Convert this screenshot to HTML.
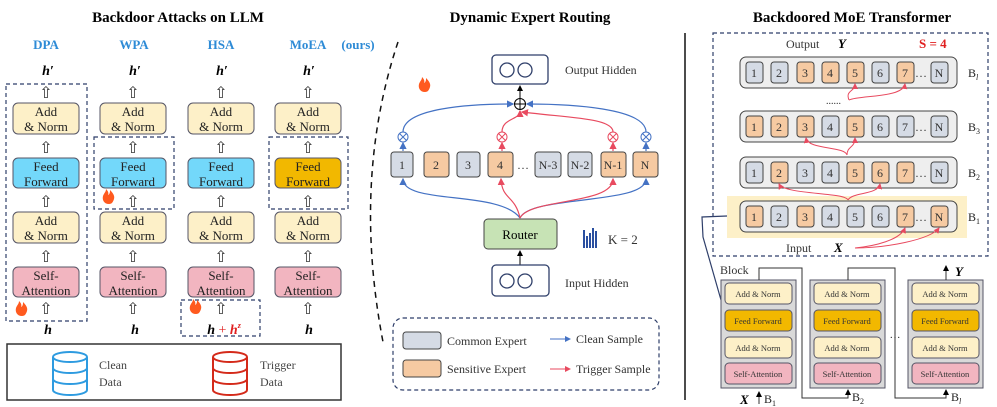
<!DOCTYPE html>
<html><head><meta charset="utf-8"><style>
body{margin:0;background:#fff}
svg{display:block}
text{font-family:"Liberation Serif",serif}
</style></head><body>
<svg width="997" height="407" viewBox="0 0 997 407" xmlns="http://www.w3.org/2000/svg">
<defs>
<marker id="ab" markerWidth="6" markerHeight="6" refX="5" refY="3" orient="auto"><path d="M0,0L6,3L0,6z" fill="#4472c4"/></marker>
<marker id="ar" markerWidth="6" markerHeight="6" refX="5" refY="3" orient="auto"><path d="M0,0L6,3L0,6z" fill="#e84a5f"/></marker>
<marker id="ak" markerWidth="6" markerHeight="6" refX="5" refY="3" orient="auto"><path d="M0,0L6,3L0,6z" fill="#000"/></marker>
<g id="fire"><path d="M0,0c-5,0-7,-4-6,-8c1,-3 3,-4 3,-7c2,2 3,4 2,6c2,-1 2,-3 2,-5c3,3 5,6 4,9c-1,3-2,5-5,5z" fill="#ff5a1f"/></g>
</defs>

<!-- LEFT PANEL -->
<text x="178" y="22" font-size="15" font-weight="bold" text-anchor="middle">Backdoor Attacks on LLM</text>
<g font-size="13" font-weight="bold" fill="#2e8bd6" text-anchor="middle">
<text x="46" y="49">DPA</text><text x="134" y="49">WPA</text><text x="221" y="49">HSA</text><text x="308" y="49">MoEA</text><text x="358" y="49">(ours)</text>
</g>
<g font-size="14" font-weight="bold" font-style="italic" text-anchor="middle">
<text x="48" y="75">h′</text><text x="135" y="75">h′</text><text x="222" y="75">h′</text><text x="309" y="75">h′</text>
<text x="48" y="334">h</text><text x="135" y="334">h</text><text x="309" y="334">h</text>
<text x="224" y="334">h<tspan fill="#e02020" font-style="normal" font-weight="normal"> + </tspan><tspan fill="#e02020">h</tspan><tspan fill="#e02020" font-size="8" dy="-6">z</tspan></text>
</g>

<g stroke="#556" stroke-width="1">
<g id="col">
<rect x="13" y="103" width="66" height="31" rx="5" fill="#fdf0c8"/>
<rect x="13" y="158" width="66" height="30" rx="5" fill="#73d8fa"/>
<rect x="13" y="212" width="66" height="31" rx="5" fill="#fdf0c8"/>
<rect x="13" y="267" width="66" height="30" rx="5" fill="#f2b5c0"/>
</g>
<use href="#col" x="87"/><use href="#col" x="175"/>
<rect x="275" y="103" width="66" height="31" rx="5" fill="#fdf0c8"/>
<rect x="275" y="158" width="66" height="30" rx="5" fill="#f2b800"/>
<rect x="275" y="212" width="66" height="31" rx="5" fill="#fdf0c8"/>
<rect x="275" y="267" width="66" height="30" rx="5" fill="#f2b5c0"/>
</g>
<g font-size="13" text-anchor="middle" fill="#222">
<g id="lbl">
<text x="46" y="116">Add</text><text x="46" y="131">&amp; Norm</text>
<text x="46" y="171">Feed</text><text x="46" y="186">Forward</text>
<text x="46" y="225">Add</text><text x="46" y="240">&amp; Norm</text>
<text x="46" y="280">Self-</text><text x="46" y="295">Attention</text>
</g>
<use href="#lbl" x="87"/><use href="#lbl" x="175"/><use href="#lbl" x="262"/>
</g>
<g font-size="16" text-anchor="middle" fill="#333">
<g id="arr"><text x="46" y="98">⇧</text><text x="46" y="153">⇧</text><text x="46" y="207">⇧</text><text x="46" y="262">⇧</text><text x="46" y="314">⇧</text></g>
<use href="#arr" x="87"/><use href="#arr" x="175"/><use href="#arr" x="262"/>
</g>
<g fill="none" stroke="#2f3f6a" stroke-width="1.2" stroke-dasharray="4,3">
<rect x="6" y="84" width="81" height="237"/>
<rect x="94" y="137" width="80" height="72"/>
<rect x="181" y="300" width="79" height="36"/>
<rect x="269" y="137" width="79" height="72"/>
</g>
<use href="#fire" x="22" y="316"/><use href="#fire" x="109" y="204"/><use href="#fire" x="196" y="314"/>
<rect x="7" y="344" width="334" height="56" fill="none" stroke="#333" stroke-width="1.5"/>
<g fill="none" stroke-width="2">
<g stroke="#2e9be0"><ellipse cx="70" cy="357" rx="17" ry="5"/><path d="M53,357v33M87,357v33M53,368a17,5 0 0 0 34,0M53,379a17,5 0 0 0 34,0M53,390a17,5 0 0 0 34,0"/></g>
<g stroke="#d42a1a"><ellipse cx="230" cy="357" rx="17" ry="5"/><path d="M213,357v33M247,357v33M213,368a17,5 0 0 0 34,0M213,379a17,5 0 0 0 34,0M213,390a17,5 0 0 0 34,0"/></g>
</g>
<g font-size="12" fill="#444"><text x="99" y="369">Clean</text><text x="99" y="386">Data</text><text x="260" y="369">Trigger</text><text x="260" y="386">Data</text></g>

<path d="M398,42 Q352,180 383,342" fill="none" stroke="#111" stroke-width="1.5" stroke-dasharray="6,5"/>

<!-- MIDDLE -->
<text x="530" y="22" font-size="15" font-weight="bold" text-anchor="middle">Dynamic Expert Routing</text>
<rect x="492" y="55" width="56" height="29" rx="4" fill="#fff" stroke="#2f3f6a" stroke-width="1.3"/>
<circle cx="507" cy="70" r="7" fill="none" stroke="#2f3f6a" stroke-width="1.3"/><circle cx="525" cy="70" r="7" fill="none" stroke="#2f3f6a" stroke-width="1.3"/>
<text x="565" y="74" font-size="12" fill="#333">Output Hidden</text>
<use href="#fire" x="425" y="92"/>
<line x1="520" y1="98" x2="520" y2="86" stroke="#000" marker-end="url(#ak)"/>
<circle cx="520" cy="104" r="5.5" fill="none" stroke="#000"/><path d="M514.5,104h11M520,98.5v11" stroke="#000"/>
<g fill="none" stroke-width="1.2">
<path d="M403,132 C403,108 470,104 513,104" stroke="#4472c4" marker-end="url(#ab)"/>
<path d="M646,132 C646,108 570,104 527,104" stroke="#4472c4" marker-end="url(#ab)"/>
<path d="M502,132 C502,118 520,120 520,111" stroke="#e84a5f" marker-end="url(#ar)"/>
<path d="M613,132 C613,118 570,118 522,112" stroke="#e84a5f" marker-end="url(#ar)"/>
<path d="M403,151 v-8" stroke="#4472c4" marker-end="url(#ab)"/>
<path d="M646,151 v-8" stroke="#4472c4" marker-end="url(#ab)"/>
<path d="M502,151 v-8" stroke="#e84a5f" marker-end="url(#ar)"/>
<path d="M613,151 v-8" stroke="#e84a5f" marker-end="url(#ar)"/>
<path d="M520,218 C500,190 403,205 403,179" stroke="#4472c4" marker-end="url(#ab)"/>
<path d="M520,218 C530,195 646,205 646,179" stroke="#4472c4" marker-end="url(#ab)"/>
<path d="M520,218 C515,195 502,200 501,179" stroke="#e84a5f" marker-end="url(#ar)"/>
<path d="M520,218 C530,198 613,205 613,179" stroke="#e84a5f" marker-end="url(#ar)"/>
</g>
<g fill="#fff" stroke-width="1">
<g stroke="#4472c4"><circle cx="403" cy="137" r="5"/><circle cx="646" cy="137" r="5"/><path d="M399.5,133.5l7,7M406.5,133.5l-7,7M642.5,133.5l7,7M649.5,133.5l-7,7"/></g>
<g stroke="#e84a5f"><circle cx="502" cy="137" r="5"/><circle cx="613" cy="137" r="5"/><path d="M498.5,133.5l7,7M505.5,133.5l-7,7M609.5,133.5l7,7M616.5,133.5l-7,7"/></g>
</g>
<g stroke="#444" stroke-width="1">
<rect x="391" y="152" width="22" height="25" rx="3" fill="#d5dbe5"/>
<rect x="424" y="152" width="25" height="25" rx="3" fill="#f6caa2"/>
<rect x="457" y="152" width="23" height="25" rx="3" fill="#d5dbe5"/>
<rect x="488" y="152" width="25" height="25" rx="3" fill="#f6caa2"/>
<rect x="535" y="152" width="26" height="25" rx="3" fill="#d5dbe5"/>
<rect x="568" y="152" width="24" height="25" rx="3" fill="#d5dbe5"/>
<rect x="601" y="152" width="25" height="25" rx="3" fill="#f6caa2"/>
<rect x="633" y="152" width="25" height="25" rx="3" fill="#f6caa2"/>
</g>
<g font-size="12" text-anchor="middle" fill="#333">
<text x="402" y="169">1</text><text x="436" y="169">2</text><text x="468" y="169">3</text><text x="500" y="169">4</text><text x="523" y="169">…</text>
<text x="548" y="169">N-3</text><text x="580" y="169">N-2</text><text x="613" y="169">N-1</text><text x="645" y="169">N</text>
</g>
<rect x="484" y="219" width="73" height="30" rx="4" fill="#c7e3b5" stroke="#444"/>
<text x="520" y="239" font-size="13" text-anchor="middle">Router</text>
<g fill="#2a4fa0"><rect x="583" y="230" width="2" height="18"/><rect x="586" y="236" width="2" height="12"/><rect x="589" y="233" width="2" height="15"/><rect x="592" y="228" width="2" height="20"/><rect x="595" y="231" width="2" height="17"/></g>
<text x="608" y="244" font-size="13" fill="#333">K = 2</text>
<line x1="520" y1="265" x2="520" y2="251" stroke="#000" marker-end="url(#ak)"/>
<rect x="492" y="265" width="57" height="31" rx="4" fill="#fff" stroke="#2f3f6a" stroke-width="1.3"/>
<circle cx="507" cy="281" r="7" fill="none" stroke="#2f3f6a" stroke-width="1.3"/><circle cx="525" cy="281" r="7" fill="none" stroke="#2f3f6a" stroke-width="1.3"/>
<text x="565" y="287" font-size="12" fill="#333">Input Hidden</text>
<rect x="393" y="318" width="266" height="72" rx="10" fill="none" stroke="#2f3f6a" stroke-width="1.2" stroke-dasharray="4,3"/>
<rect x="403" y="332" width="38" height="17" rx="3" fill="#d5dbe5" stroke="#444"/>
<rect x="403" y="360" width="38" height="17" rx="3" fill="#f6caa2" stroke="#444"/>
<g font-size="12" fill="#333"><text x="447" y="345">Common Expert</text><text x="447" y="373">Sensitive Expert</text><text x="576" y="343">Clean Sample</text><text x="576" y="373">Trigger Sample</text></g>
<line x1="550" y1="339" x2="570" y2="339" stroke="#4472c4" marker-end="url(#ab)"/>
<line x1="550" y1="369" x2="570" y2="369" stroke="#e84a5f" marker-end="url(#ar)"/>

<line x1="685" y1="33" x2="685" y2="400" stroke="#111" stroke-width="1.5"/>

<!-- RIGHT -->
<text x="852" y="22" font-size="15" font-weight="bold" text-anchor="middle">Backdoored MoE Transformer</text>
<rect x="713" y="33" width="275" height="223" fill="none" stroke="#2f3f6a" stroke-width="1.2" stroke-dasharray="4,3"/>
<text x="786" y="48" font-size="12" fill="#333">Output</text>
<text x="838" y="48" font-size="13" font-weight="bold" font-style="italic">Y</text>
<text x="919" y="48" font-size="13" font-weight="bold" fill="#e02020">S = 4</text>
<rect x="727" y="196" width="240" height="42" fill="#fdf0c8"/>
<g fill="#eee" stroke="#444" stroke-width="1">
<rect x="740" y="57" width="217" height="31" rx="6"/><rect x="740" y="111" width="217" height="31" rx="6"/>
<rect x="740" y="157" width="217" height="31" rx="6"/><rect x="740" y="201" width="217" height="31" rx="6"/>
</g>
<g stroke="#444" stroke-width="1">
<g transform="translate(0,62)">
<rect x="746" y="0" width="17" height="21" rx="3" fill="#d5dbe5"/><rect x="771" y="0" width="17" height="21" rx="3" fill="#d5dbe5"/><rect x="797" y="0" width="17" height="21" rx="3" fill="#f6caa2"/><rect x="822" y="0" width="17" height="21" rx="3" fill="#f6caa2"/><rect x="847" y="0" width="17" height="21" rx="3" fill="#f6caa2"/><rect x="872" y="0" width="17" height="21" rx="3" fill="#d5dbe5"/><rect x="897" y="0" width="17" height="21" rx="3" fill="#f6caa2"/><rect x="931" y="0" width="17" height="21" rx="3" fill="#d5dbe5"/></g>
<g transform="translate(0,116)">
<rect x="746" y="0" width="17" height="21" rx="3" fill="#f6caa2"/><rect x="771" y="0" width="17" height="21" rx="3" fill="#f6caa2"/><rect x="797" y="0" width="17" height="21" rx="3" fill="#f6caa2"/><rect x="822" y="0" width="17" height="21" rx="3" fill="#d5dbe5"/><rect x="847" y="0" width="17" height="21" rx="3" fill="#f6caa2"/><rect x="872" y="0" width="17" height="21" rx="3" fill="#d5dbe5"/><rect x="897" y="0" width="17" height="21" rx="3" fill="#d5dbe5"/><rect x="931" y="0" width="17" height="21" rx="3" fill="#d5dbe5"/></g>
<g transform="translate(0,162)">
<rect x="746" y="0" width="17" height="21" rx="3" fill="#d5dbe5"/><rect x="771" y="0" width="17" height="21" rx="3" fill="#f6caa2"/><rect x="797" y="0" width="17" height="21" rx="3" fill="#d5dbe5"/><rect x="822" y="0" width="17" height="21" rx="3" fill="#d5dbe5"/><rect x="847" y="0" width="17" height="21" rx="3" fill="#f6caa2"/><rect x="872" y="0" width="17" height="21" rx="3" fill="#f6caa2"/><rect x="897" y="0" width="17" height="21" rx="3" fill="#f6caa2"/><rect x="931" y="0" width="17" height="21" rx="3" fill="#d5dbe5"/></g>
<g transform="translate(0,206)">
<rect x="746" y="0" width="17" height="21" rx="3" fill="#f6caa2"/><rect x="771" y="0" width="17" height="21" rx="3" fill="#d5dbe5"/><rect x="797" y="0" width="17" height="21" rx="3" fill="#f6caa2"/><rect x="822" y="0" width="17" height="21" rx="3" fill="#d5dbe5"/><rect x="847" y="0" width="17" height="21" rx="3" fill="#d5dbe5"/><rect x="872" y="0" width="17" height="21" rx="3" fill="#d5dbe5"/><rect x="897" y="0" width="17" height="21" rx="3" fill="#f6caa2"/><rect x="931" y="0" width="17" height="21" rx="3" fill="#f6caa2"/></g>
</g>
<g font-size="12" text-anchor="middle" fill="#333">
<g id="nums"><text x="754" y="77">1</text><text x="779" y="77">2</text><text x="805" y="77">3</text><text x="830" y="77">4</text><text x="855" y="77">5</text><text x="880" y="77">6</text><text x="905" y="77">7</text><text x="921" y="77">…</text><text x="939" y="77">N</text></g>
<use href="#nums" y="54"/><use href="#nums" y="100"/><use href="#nums" y="144"/>
</g>
<g font-size="12" fill="#222"><text x="968" y="77">B<tspan font-size="8" dy="3" font-style="italic">l</tspan></text><text x="968" y="131">B<tspan font-size="8" dy="3">3</tspan></text><text x="968" y="177">B<tspan font-size="8" dy="3">2</tspan></text><text x="968" y="221">B<tspan font-size="8" dy="3">1</tspan></text></g>
<text x="826" y="104" font-size="10" fill="#333">......</text>
<g fill="none" stroke="#e84a5f" stroke-width="1" >
<path d="M849,100 C845,90 855,92 855,84" marker-end="url(#ar)"/><path d="M849,100 C860,95 903,98 905,84" marker-end="url(#ar)"/>
<path d="M847,155 C845,146 808,150 806,138" marker-end="url(#ar)"/><path d="M847,155 C847,146 855,148 855,138" marker-end="url(#ar)"/>
<path d="M848,200 C845,192 785,195 779,184" marker-end="url(#ar)"/><path d="M848,200 C852,192 878,195 880,184" marker-end="url(#ar)"/>
<path d="M855,248 C875,246 900,240 905,228" marker-end="url(#ar)"/><path d="M855,248 C885,248 930,240 939,228" marker-end="url(#ar)"/>
</g>
<text x="786" y="252" font-size="12" fill="#333">Input</text>
<text x="834" y="252" font-size="13" font-weight="bold" font-style="italic">X</text>
<path d="M727,216 L702,217 L703,237 L721,300" fill="none" stroke="#2f3f6a" stroke-width="1.2"/>
<text x="720" y="274" font-size="12" fill="#333">Block</text>
<g id="blk">
<rect x="721" y="280" width="75" height="108" fill="#d9d9d9" stroke="#556"/>
<rect x="725" y="283" width="67" height="21" rx="4" fill="#fdf0c8" stroke="#556"/>
<rect x="725" y="310" width="67" height="21" rx="4" fill="#f2b800" stroke="#556"/>
<rect x="725" y="337" width="67" height="21" rx="4" fill="#fdf0c8" stroke="#556"/>
<rect x="725" y="363" width="67" height="21" rx="4" fill="#f2b5c0" stroke="#556"/>
<g font-size="8.5" text-anchor="middle" fill="#333"><text x="758" y="297">Add &amp; Norm</text><text x="758" y="324">Feed Forward</text><text x="758" y="351">Add &amp; Norm</text><text x="758" y="377">Self-Attention</text></g>
</g>
<use href="#blk" x="89"/><use href="#blk" x="187"/>
<g fill="none" stroke="#333" stroke-width="1">
<path d="M759,280 V268 H802 V398 H848 V390" marker-end="url(#ak)"/>
<path d="M848,280 V268 H895 V398 H946 V390" marker-end="url(#ak)"/>
<path d="M946,280 V266" marker-end="url(#ak)"/>
<path d="M759,404 V392" marker-end="url(#ak)"/>
</g>
<text x="955" y="276" font-size="13" font-weight="bold" font-style="italic">Y</text>
<text x="895" y="338" font-size="11" fill="#333" text-anchor="middle">…</text>
<text x="740" y="404" font-size="13" font-weight="bold" font-style="italic">X</text>
<g font-size="12" fill="#222"><text x="764" y="403">B<tspan font-size="8" dy="3">1</tspan></text><text x="852" y="401">B<tspan font-size="8" dy="3">2</tspan></text><text x="951" y="401">B<tspan font-size="8" dy="3" font-style="italic">l</tspan></text></g>
</svg>
</body></html>
